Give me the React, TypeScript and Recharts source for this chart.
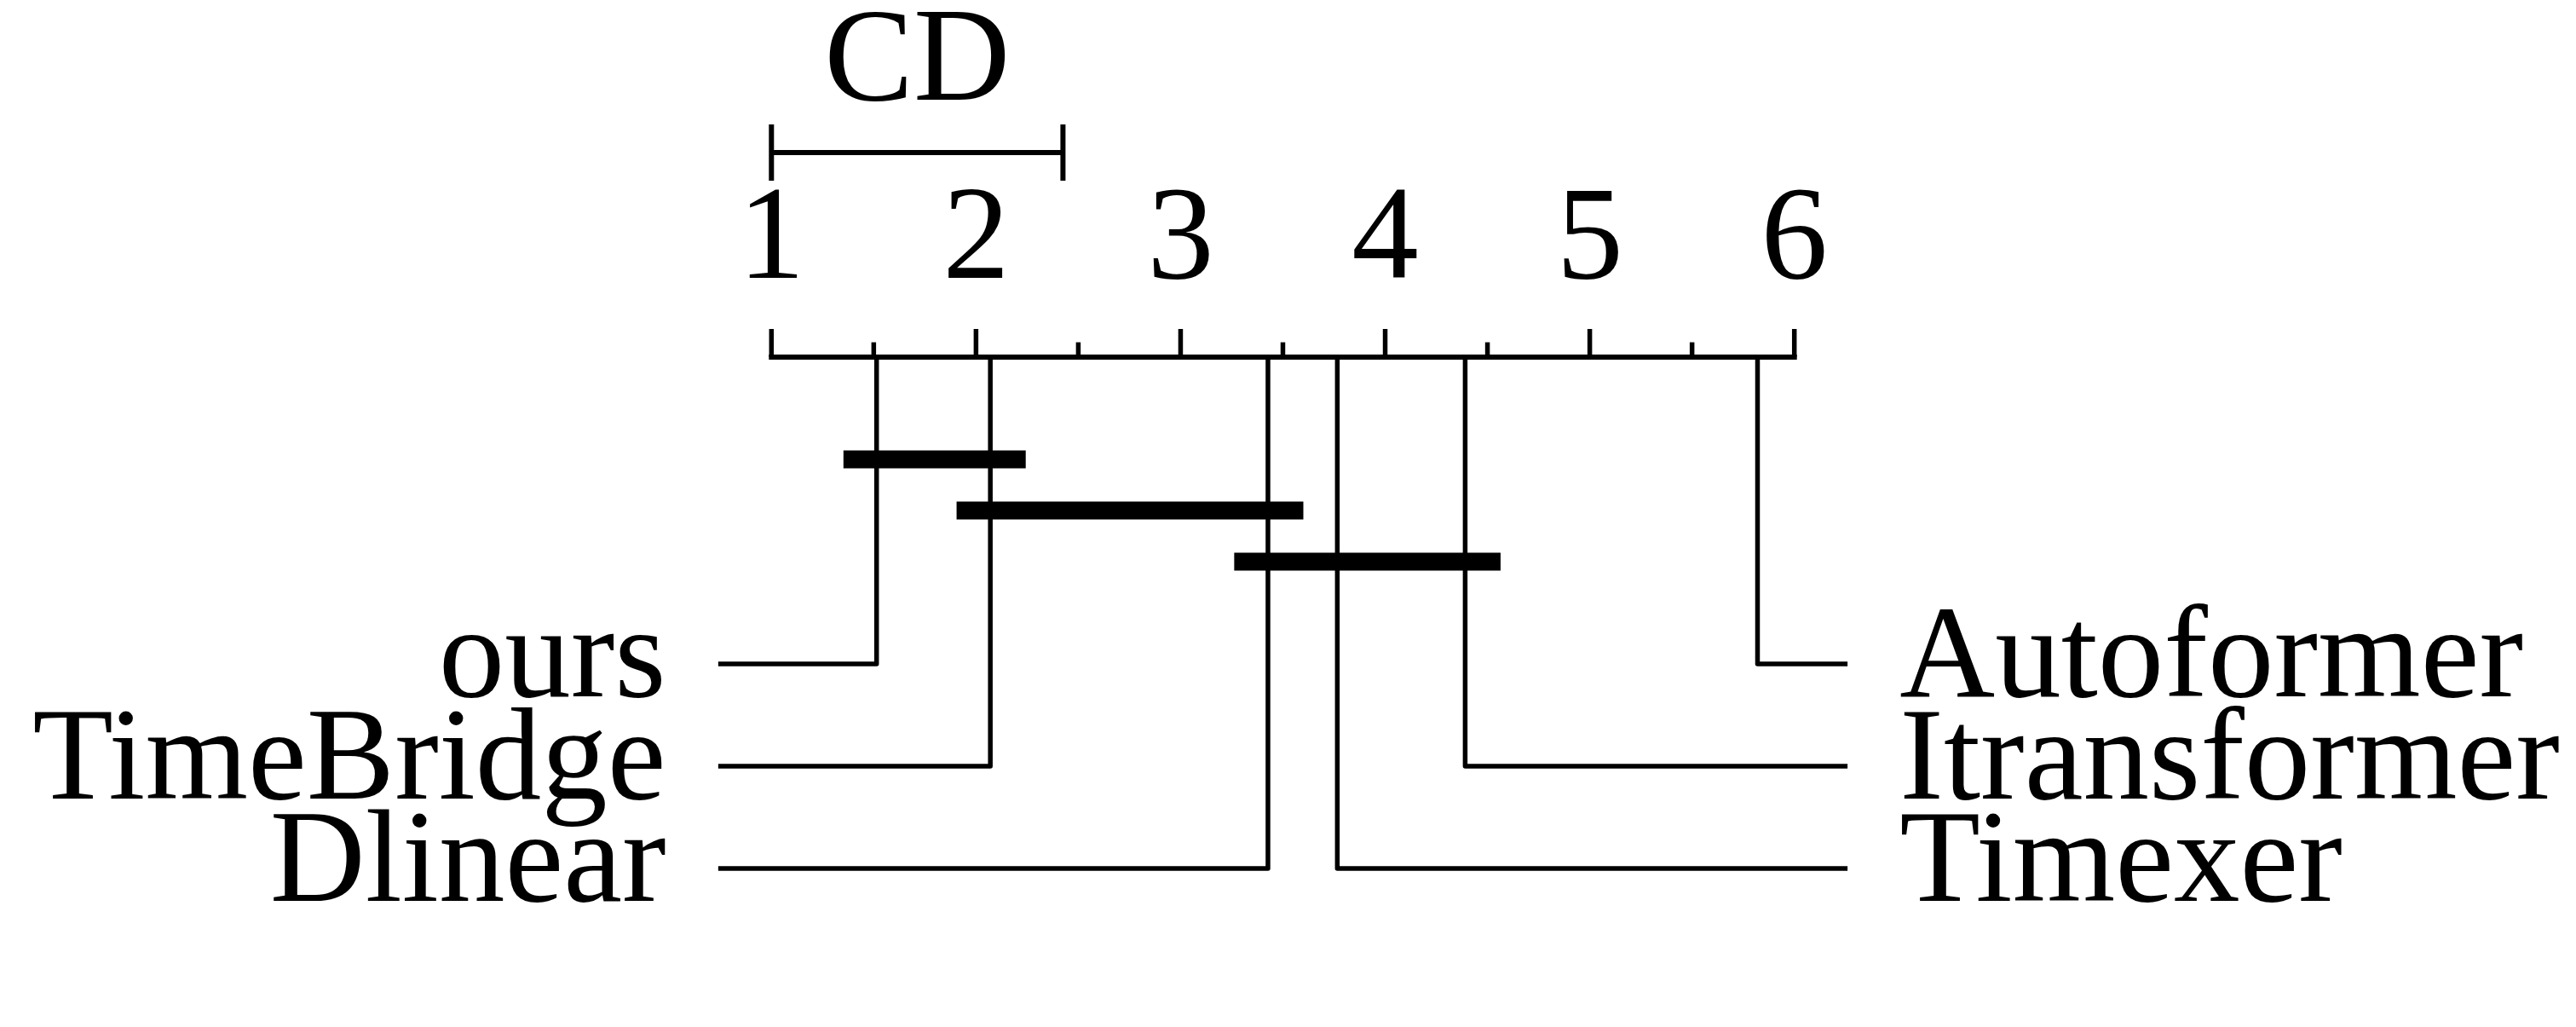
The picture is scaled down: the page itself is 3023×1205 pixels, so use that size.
import { ComposedChart, Line, ReferenceLine, Scatter, XAxis, YAxis } from 'recharts';

// average ranks
const leftNames = ['ours', 'TimeBridge', 'Dlinear'];
const leftRanks = [1.514, 2.07, 3.427];
const rightNames = ['Autoformer', 'Itransformer', 'Timexer'];
const rightRanks = [5.82, 4.391, 3.766];

// groups with no significant difference
const cliqueStarts = [1.352, 1.905, 3.262];
const cliqueEnds = [2.243, 3.6, 4.564];

const rankTicks = [1, 2, 3, 4, 5, 6];
const criticalDifference = 1.425;

// layout: y in rows (1 row = 60px), 0 is the rank axis
const FONT = '"Liberation Serif", "Times New Roman", serif';
const MAJOR_TICK = 0.55;
const MINOR_TICK = 0.29;
const TICK_LABEL_Y = -1.55;
const CD_Y = -4;
const CD_HALF = 0.55;
const CD_LABEL_Y = -5.03;
const FIRST_CLIQUE_ROW = 2;
const FIRST_NAME_ROW = 6;
const NAME_ROW_STEP = 2;
const NAME_BASELINE = 0.633;
const OVERHANG = 0.26;
const LABEL_GAP = 0.255;

const minRank = rankTicks[0];
const maxRank = rankTicks[rankTicks.length - 1];

const textShape = (anchor: 'start' | 'middle' | 'end', size: number) => (props: any) => (
  <text x={props.cx} y={props.cy} textAnchor={anchor} fontFamily={FONT} fontSize={size} fill="#000">
    {props.payload.label}
  </text>
);

export default function App() {
  const minorTicks = rankTicks.slice(1).map((t, i) => (t + rankTicks[i]) / 2);

  const leftLines = leftRanks.map((r, i) => {
    const row = FIRST_NAME_ROW + i * NAME_ROW_STEP;
    return [
      { x: r, y: 0 },
      { x: r, y: row },
      { x: minRank - OVERHANG, y: row },
    ];
  });
  const rightLines = rightRanks.map((r, i) => {
    const row = FIRST_NAME_ROW + i * NAME_ROW_STEP;
    return [
      { x: r, y: 0 },
      { x: r, y: row },
      { x: maxRank + OVERHANG, y: row },
    ];
  });

  const leftLabels = leftNames.map((n, i) => ({
    x: minRank - OVERHANG - LABEL_GAP,
    y: FIRST_NAME_ROW + i * NAME_ROW_STEP + NAME_BASELINE,
    label: n,
  }));
  const rightLabels = rightNames.map((n, i) => ({
    x: maxRank + OVERHANG + LABEL_GAP,
    y: FIRST_NAME_ROW + i * NAME_ROW_STEP + NAME_BASELINE,
    label: n,
  }));
  const tickLabels = rankTicks.map((t) => ({ x: t, y: TICK_LABEL_Y, label: String(t) }));
  const cdLabel = [{ x: minRank + criticalDifference / 2, y: CD_LABEL_Y, label: 'CD' }];

  return (
    <div style={{ width: 3000, height: 1180, background: '#fff' }}>
      <ComposedChart width={3000} height={1180} margin={{ top: 21, right: 62, bottom: 19, left: 57 }}>
        <XAxis dataKey="x" type="number" domain={[-2.5, 9.5]} hide />
        <YAxis dataKey="y" type="number" domain={[-6.5, 12.5]} reversed hide />

        {/* rank axis */}
        <ReferenceLine
          segment={[{ x: minRank, y: 0 }, { x: maxRank, y: 0 }]}
          stroke="#000"
          strokeWidth={6}
          strokeLinecap="square"
        />
        {rankTicks.map((t) => (
          <ReferenceLine
            key={'M' + t}
            segment={[{ x: t, y: 0 }, { x: t, y: -MAJOR_TICK }]}
            stroke="#000"
            strokeWidth={5.5}
          />
        ))}
        {minorTicks.map((t) => (
          <ReferenceLine
            key={'m' + t}
            segment={[{ x: t, y: 0 }, { x: t, y: -MINOR_TICK }]}
            stroke="#000"
            strokeWidth={5.5}
          />
        ))}

        {/* CD bracket */}
        <ReferenceLine
          segment={[{ x: minRank, y: CD_Y }, { x: minRank + criticalDifference, y: CD_Y }]}
          stroke="#000"
          strokeWidth={6}
        />
        <ReferenceLine
          segment={[{ x: minRank, y: CD_Y - CD_HALF }, { x: minRank, y: CD_Y + CD_HALF }]}
          stroke="#000"
          strokeWidth={6}
        />
        <ReferenceLine
          segment={[
            { x: minRank + criticalDifference, y: CD_Y - CD_HALF },
            { x: minRank + criticalDifference, y: CD_Y + CD_HALF },
          ]}
          stroke="#000"
          strokeWidth={6}
        />

        {leftLines.map((d, i) => (
          <Line
            key={'L' + i}
            data={d}
            dataKey="y"
            stroke="#000"
            strokeWidth={5.5}
            dot={false}
            strokeLinejoin="round"
            isAnimationActive={false}
          />
        ))}
        {rightLines.map((d, i) => (
          <Line
            key={'R' + i}
            data={d}
            dataKey="y"
            stroke="#000"
            strokeWidth={5.5}
            dot={false}
            strokeLinejoin="round"
            isAnimationActive={false}
          />
        ))}

        {cliqueStarts.map((s, i) => (
          <Line
            key={'C' + i}
            data={[
              { x: s, y: FIRST_CLIQUE_ROW + i },
              { x: cliqueEnds[i], y: FIRST_CLIQUE_ROW + i },
            ]}
            dataKey="y"
            stroke="#000"
            strokeWidth={21}
            strokeLinecap="butt"
            dot={false}
            isAnimationActive={false}
          />
        ))}

        <Scatter data={tickLabels} dataKey="y" shape={textShape('middle', 157)} isAnimationActive={false} />
        <Scatter data={cdLabel} dataKey="y" shape={textShape('middle', 157)} isAnimationActive={false} />
        <Scatter data={leftLabels} dataKey="y" shape={textShape('end', 155)} isAnimationActive={false} />
        <Scatter data={rightLabels} dataKey="y" shape={textShape('start', 155)} isAnimationActive={false} />
      </ComposedChart>
    </div>
  );
}
